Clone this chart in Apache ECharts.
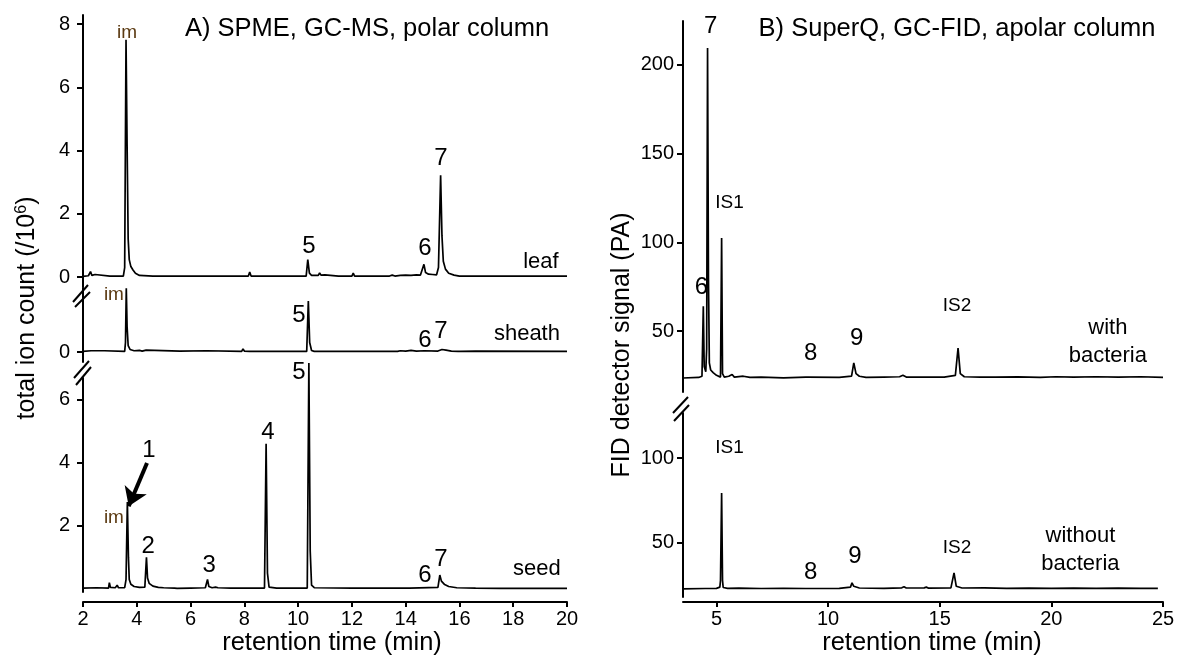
<!DOCTYPE html>
<html><head><meta charset="utf-8">
<script src="https://cdn.jsdelivr.net/npm/echarts@6/dist/echarts.min.js"></script>
<style>html,body{margin:0;padding:0;background:#fff}#c{width:1180px;height:658px}</style>
</head><body><div id="c"></div>
<script>
// ---------------- DATA ----------------
// Panel A: SPME, GC-MS (retention time min, total ion count /1e6)
const leaf = [[2.00,0.02],[2.20,0.04],[2.28,0.17],[2.33,0.05],[2.45,0.08],[2.52,0.03],[3.00,0.03],[3.50,0.03],[3.55,0.3],[3.60,7.50],[3.64,4.2],[3.68,1.2],[3.72,0.55],[3.78,0.33],[3.86,0.22],[3.95,0.12],[4.10,0.05],[4.60,0.03],[4.65,0.07],[4.70,0.03],[5.40,0.03],[5.45,0.06],[5.50,0.03],[6.40,0.03],[6.45,0.07],[6.50,0.03],[7.30,0.03],[7.35,0.06],[7.40,0.03],[8.15,0.03],[8.20,0.16],[8.25,0.03],[9.00,0.03],[9.05,0.06],[9.10,0.03],[10.30,0.03],[10.36,0.55],[10.42,0.12],[10.50,0.05],[10.75,0.05],[10.80,0.13],[10.85,0.06],[11.00,0.07],[11.05,0.03],[11.50,0.03],[11.55,0.07],[11.60,0.03],[12.00,0.03],[12.05,0.12],[12.10,0.03],[12.60,0.03],[12.65,0.06],[12.70,0.03],[13.40,0.03],[13.50,0.06],[13.60,0.03],[13.80,0.05],[14.00,0.06],[14.20,0.05],[14.40,0.07],[14.55,0.06],[14.62,0.12],[14.68,0.40],[14.74,0.14],[14.85,0.09],[15.00,0.08],[15.15,0.07],[15.22,0.3],[15.30,3.22],[15.35,1.3],[15.40,0.5],[15.48,0.25],[15.60,0.12],[15.80,0.06],[16.00,0.03],[16.50,0.03],[16.55,0.06],[16.60,0.03],[17.30,0.03],[17.35,0.06],[17.40,0.03],[18.00,0.03],[18.05,0.07],[18.10,0.03],[18.50,0.03],[18.55,0.06],[18.60,0.03],[20.00,0.03]];
const sheath = [[2.00,0.02],[2.30,0.04],[2.35,0.02],[2.80,0.04],[2.85,0.02],[3.55,0.02],[3.58,0.3],[3.61,2.02],[3.64,0.8],[3.68,0.2],[3.75,0.08],[3.90,0.04],[4.10,0.05],[4.20,0.03],[4.35,0.06],[4.40,0.02],[5.60,0.03],[6.60,0.04],[6.65,0.02],[7.90,0.02],[7.95,0.1],[8.00,0.03],[8.20,0.02],[10.32,0.02],[10.38,1.61],[10.43,0.3],[10.50,0.05],[10.60,0.02],[11.25,0.02],[11.30,0.06],[11.35,0.02],[13.70,0.02],[13.80,0.04],[14.00,0.03],[14.20,0.05],[14.40,0.03],[14.70,0.04],[15.20,0.03],[15.35,0.08],[15.50,0.06],[15.70,0.03],[15.95,0.02],[16.00,0.06],[16.05,0.02],[16.60,0.03],[20.00,0.02]];
const seed = [[2.00,0.03],[2.50,0.04],[2.55,0.02],[2.95,0.03],[2.98,0.2],[3.02,0.05],[3.20,0.04],[3.27,0.12],[3.32,0.04],[3.55,0.04],[3.60,0.3],[3.65,2.75],[3.69,1.0],[3.72,0.3],[3.78,0.15],[3.90,0.08],[4.10,0.05],[4.30,0.06],[4.36,1.0],[4.40,0.35],[4.46,0.18],[4.60,0.09],[4.80,0.05],[5.00,0.04],[5.40,0.03],[5.45,0.06],[5.50,0.02],[6.00,0.03],[6.55,0.04],[6.63,0.30],[6.68,0.08],[6.80,0.04],[6.93,0.06],[6.97,0.12],[7.02,0.04],[7.50,0.03],[8.15,0.03],[8.20,0.06],[8.25,0.03],[8.75,0.03],[8.81,4.6],[8.86,0.5],[8.92,0.06],[9.20,0.03],[10.34,0.03],[10.40,7.15],[10.45,1.2],[10.50,0.12],[10.60,0.04],[12.00,0.03],[12.05,0.09],[12.10,0.03],[13.75,0.03],[13.80,0.06],[13.85,0.03],[14.05,0.03],[14.10,0.08],[14.15,0.03],[15.20,0.05],[15.27,0.44],[15.33,0.25],[15.45,0.14],[15.60,0.08],[15.90,0.04],[16.60,0.03],[17.50,0.02],[20.00,0.02]];
// Panel B: SuperQ, GC-FID (retention time min, signal pA)
const withBacteria = [[3.5,23.5],[4.2,23.8],[4.35,24.5],[4.41,64],[4.45,30],[4.52,27],[4.56,40],[4.60,209.6],[4.64,80],[4.68,32],[4.74,28],[4.85,26.5],[5.0,25],[5.18,24],[5.23,102.4],[5.27,26],[5.35,24],[5.55,24.5],[5.7,25.5],[5.8,24],[6.2,24.5],[6.5,23.8],[7.0,24],[8.0,23.6],[9.0,24],[9.05,25],[9.1,24],[10.5,23.8],[11.05,24.5],[11.15,32],[11.25,26],[11.4,24.5],[11.7,23.8],[12.5,24],[13.2,24.2],[13.35,25],[13.5,24],[14.5,24],[15.2,24],[15.7,25],[15.82,40.4],[15.92,26],[16.1,24.2],[16.8,24],[17.5,24],[18.5,24.1],[19.5,23.9],[20.2,24.2],[21.0,24],[22.0,24.2],[23.0,24],[24.0,24.2],[25.0,23.8]];
const withoutBacteria = [[3.5,23],[4.5,23.2],[5.0,23.3],[5.15,24],[5.18,28],[5.23,79.4],[5.27,28],[5.3,23.8],[5.5,23.3],[6.0,23.4],[7.0,23.2],[8.0,23.3],[9.0,23.2],[9.05,24],[9.1,23.2],[10.5,23.3],[11.0,24],[11.07,26.5],[11.15,24.5],[11.4,23.5],[12.5,23.3],[13.3,23.6],[13.4,24.2],[13.5,23.5],[14.3,23.6],[14.4,24],[14.5,23.4],[15.5,23.6],[15.64,32.4],[15.74,24.5],[16.0,23.5],[17.0,23.6],[18.0,23.3],[19.0,23.4],[20.0,23.3],[21.0,23.4],[22.0,23.3],[23.0,23.4],[24.0,23.3],[24.77,23.3]];
// Tick labels
const xTicksA = [2,4,6,8,10,12,14,16,18,20];
const xTicksB = [5,10,15,20,25];
const yTicksLeaf = [0,2,4,6,8];
const yTicksSheath = [0];
const yTicksSeed = [2,4,6];
const yTicksWith = [50,100,150,200];
const yTicksWithout = [50,100];
// Peak annotations [time, signal, text]
const leafNotes = [[3.64,7.72,'im'],[10.40,0.98,'5'],[14.72,0.92,'6'],[15.31,3.76,'7'],[19.03,0.47,'leaf']];
const sheathNotes = [[3.15,1.80,'im'],[10.03,1.17,'5'],[14.72,0.38,'6'],[15.31,0.66,'7'],[18.51,0.57,'sheath']];
const seedNotes = [[10.03,6.87,'5'],[8.88,4.97,'4'],[4.45,4.40,'1'],[3.15,2.25,'im'],[4.42,1.36,'2'],[6.69,0.76,'3'],[14.72,0.44,'6'],[15.31,0.95,'7'],[18.88,0.63,'seed']];
const withNotes = [[4.74,222,'7'],[4.32,74.8,'6'],[5.58,122.5,'IS1'],[9.22,37.6,'8'],[11.28,46,'9'],[15.77,64,'IS2'],[22.53,43.8,'with\nbacteria']];
const withoutNotes = [[5.58,105.9,'IS1'],[9.22,32.4,'8'],[11.2,42.4,'9'],[15.77,47,'IS2'],[21.3,45.9,'without\nbacteria']];
const arrowSeed = [[4.38,3.99],[3.70,2.62]];

// ---------------- CHART ----------------
const FONT = '"Liberation Sans", Arial, sans-serif';
const chart = echarts.init(document.getElementById('c'), null, {renderer:'canvas'});

function yAx(gi, min, max, ticks, margin){
  return {type:'value', gridIndex:gi, min, max,
    axisLine:{show:true, onZero:false, lineStyle:{color:'#000', width:2}},
    axisTick:{show:true, customValues:ticks, length:6, lineStyle:{color:'#000', width:2}},
    axisLabel:{show:true, customValues:ticks, color:'#000', fontSize:20, fontFamily:FONT, margin},
    splitLine:{show:false}};
}
function xAx(gi, min, max, ticks, visible, offset){
  return {type:'value', gridIndex:gi, min, max, show:visible, offset,
    axisLine:{show:true, onZero:false, lineStyle:{color:'#000', width:2}},
    axisTick:{show:true, customValues:ticks, length:5, lineStyle:{color:'#000', width:2}},
    axisLabel:{show:true, customValues:ticks, color:'#000', fontSize:20, fontFamily:FONT, margin:7},
    splitLine:{show:false}};
}
function line(gi, data, extra){
  return Object.assign({type:'line', xAxisIndex:gi, yAxisIndex:gi, data, showSymbol:false, symbol:'none',
    clip:false, silent:true, lineStyle:{color:'#000', width:1.7}, animation:false}, extra||{});
}
function notes(gi, arr){
  return {type:'scatter', xAxisIndex:gi, yAxisIndex:gi, silent:true, clip:false, animation:false,
    symbolSize:1, itemStyle:{color:'rgba(0,0,0,0)', opacity:1},
    data: arr.map(n => {
      const txt = n[2];
      let fs = 24, color = '#000';
      if (txt === 'im') { fs = 19; color = '#5b3a12'; }
      else if (/^IS/.test(txt)) fs = 19;
      else if (/[a-z]/.test(txt)) fs = 22;
      return {value:[n[0], n[1]], label:{show:true, position:'inside', formatter:txt, fontSize:fs,
        color, opacity:1, fontFamily:FONT, lineHeight:28, textBorderWidth:0}};
    })};
}
function brk(x1,y1,x2,y2){
  return {type:'line', silent:true, shape:{x1,y1,x2,y2}, style:{stroke:'#000', lineWidth:2}};
}
function txt(x, y, s, fs, rot, rich){
  return {type:'text', x, y, rotation:rot||0, silent:true,
    style:{text:s, fontSize:fs, fontFamily:FONT, fill:'#000', align:'center', verticalAlign:'middle', rich}};
}

const option = {
  animation:false,
  backgroundColor:'#fff',
  grid:[
    {left:83, width:484, top:15, height:272},
    {left:83, width:484, top:288, height:74},
    {left:83, width:484, top:378, height:214},
    {left:683, width:480, top:21, height:371},
    {left:683, width:480, top:413, height:184}
  ],
  xAxis:[
    xAx(0, 2, 20, xTicksA, false, 0),
    xAx(1, 2, 20, xTicksA, false, 0),
    xAx(2, 2, 20, xTicksA, true, 10),
    xAx(3, 3.5, 25, xTicksB, false, 0),
    xAx(4, 3.5, 25, xTicksB, true, 5)
  ],
  yAxis:[
    yAx(0, -0.316, 8.285, yTicksLeaf, 13),
    yAx(1, -0.316, 2.025, yTicksSheath, 13),
    yAx(2, -0.095, 6.677, yTicksSeed, 13),
    yAx(3, 15.6, 224.8, yTicksWith, 9),
    yAx(4, 18.2, 126.5, yTicksWithout, 9)
  ],
  series:[
    line(0, leaf),
    line(1, sheath),
    line(2, seed, {markLine:{silent:true, animation:false, symbol:['none','arrow'], symbolSize:18,
      label:{show:false}, lineStyle:{color:'#000', width:4, type:'solid', opacity:1},
      emphasis:{disabled:true},
      data:[[{coord:arrowSeed[0]},{coord:arrowSeed[1]}]]}}),
    line(3, withBacteria),
    line(4, withoutBacteria),
    notes(0, leafNotes), notes(1, sheathNotes), notes(2, seedNotes),
    notes(3, withNotes), notes(4, withoutNotes)
  ],
  graphic:[
    txt(367, 29, 'A) SPME, GC-MS, polar column', 25.5),
    txt(957, 29, 'B) SuperQ, GC-FID, apolar column', 25.5),
    txt(332, 643, 'retention time (min)', 25.5),
    txt(932, 643, 'retention time (min)', 25.5),
    txt(27, 308, '{a|total ion count (/10}{s|6}{a|)}', 25, Math.PI/2,
      {a:{fontSize:25, fontFamily:FONT, fill:'#000'}, s:{fontSize:16, fontFamily:FONT, fill:'#000', padding:[0,0,11,0]}}),
    txt(622, 345, 'FID detector signal (PA)', 25, Math.PI/2),
    brk(73,302,88,285), brk(75,307,90,292),
    brk(74,378,89,361), brk(76,385,91,367),
    brk(673,413,688,397), brk(674,421,689,405)
  ]
};
chart.setOption(option);
</script></body></html>
